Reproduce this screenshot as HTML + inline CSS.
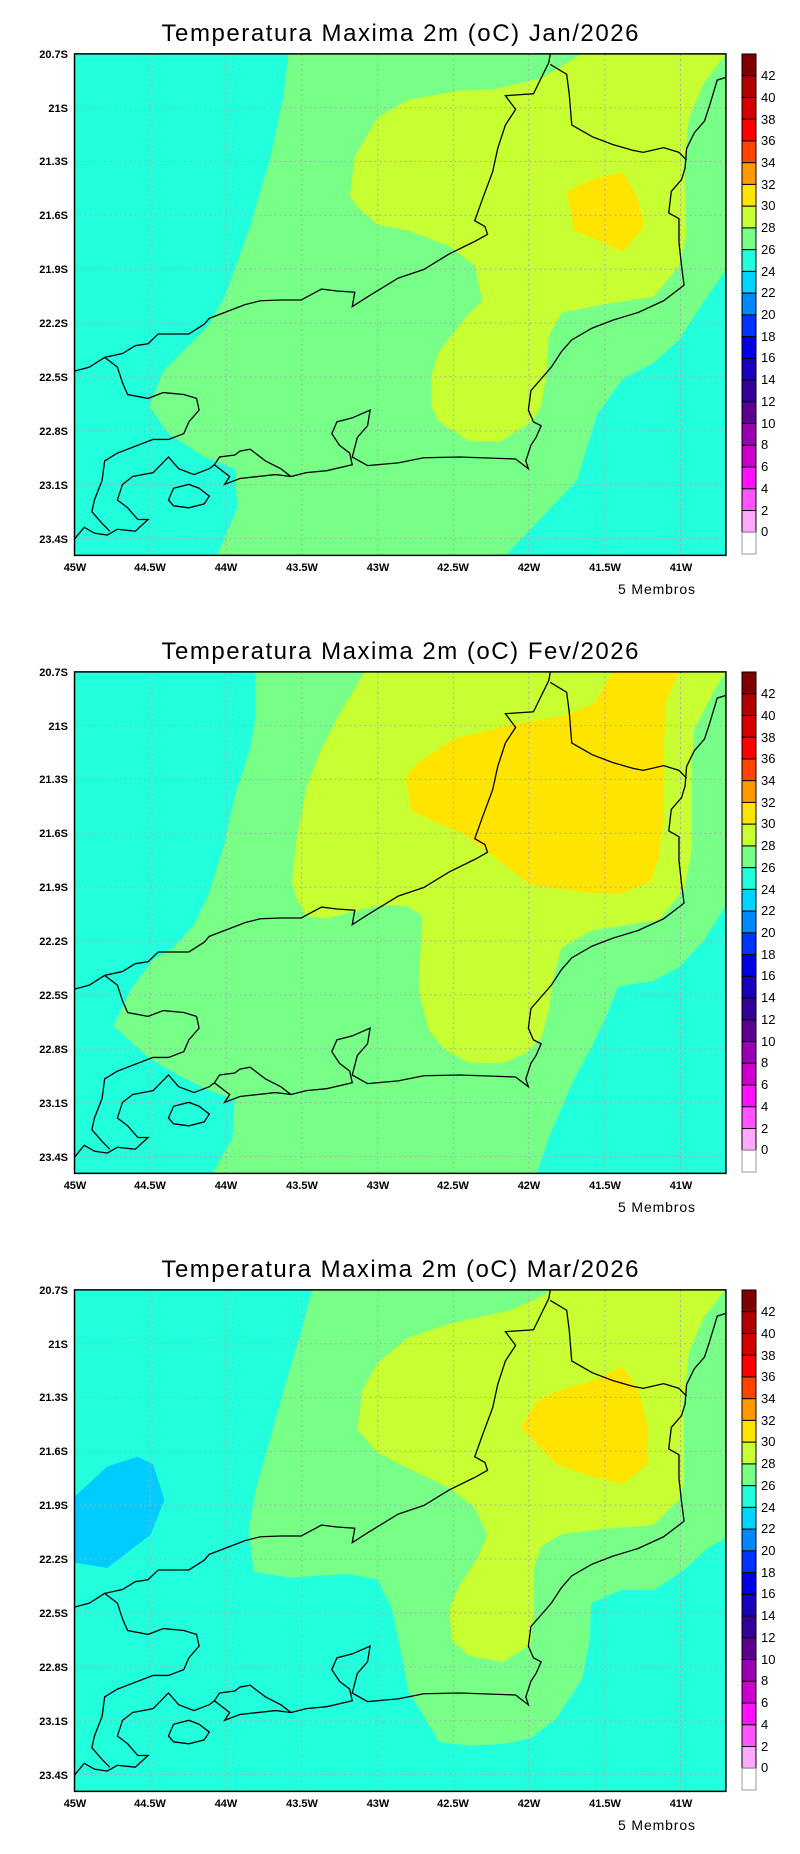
<!DOCTYPE html>
<html><head><meta charset="utf-8"><style>
html,body{margin:0;padding:0;background:#fff;width:800px;height:1854px;overflow:hidden}
svg{display:block}
text{font-family:"Liberation Sans",sans-serif;fill:#000}
</style></head><body>
<svg width="800" height="1854" viewBox="0 0 800 1854" xmlns="http://www.w3.org/2000/svg" xmlns:xlink="http://www.w3.org/1999/xlink">
<defs>
<clipPath id="clp"><rect x="146" y="138" width="1276" height="1284"/></clipPath>
<g id="coast" fill="none" stroke="#000" stroke-width="1.3" vector-effect="non-scaling-stroke">
<polyline vector-effect="non-scaling-stroke" points="146,950 175,940 205,915 240,905 265,885 290,880 310,855 350,855 370,855 400,830 410,815 440,800 480,780 510,770 550,768 590,768 630,740 660,745 695,748 690,785 720,760 780,712 830,690 880,650 930,618 955,600 950,580 930,565 945,510 965,440 975,380 990,320 1010,280 990,245 1045,240 1060,200 1075,160 1078,138"/>
<polyline vector-effect="non-scaling-stroke" points="1078,165 1110,190 1115,240 1120,320 1160,350 1200,370 1240,385 1260,390 1300,378 1330,390 1345,410"/>
<polyline vector-effect="non-scaling-stroke" points="1422,198 1405,205 1390,270 1380,310 1360,340 1345,380 1342,430 1335,460 1315,490 1310,545 1330,560 1330,620 1335,680 1340,730 1300,770 1250,800 1200,820 1160,840 1120,870 1100,900 1080,940 1060,970 1040,1000 1035,1050 1045,1080 1060,1090 1050,1120 1040,1140 1030,1180 1035,1200 1010,1175 900,1170 830,1172 780,1185 720,1192 690,1170 700,1120 720,1090 725,1050 690,1070 660,1080 650,1110 665,1140 685,1160 690,1190 640,1205 600,1210 570,1220 550,1200 520,1180 490,1150 470,1155 460,1165 430,1170 420,1190 440,1210 450,1220 440,1240 470,1225 540,1215 570,1220"/>
<polyline vector-effect="non-scaling-stroke" points="420,1190 410,1200 380,1215 350,1200 330,1170 315,1190 300,1210 260,1220 240,1240 230,1280 250,1300 270,1330 290,1330 265,1360 230,1355 210,1370 185,1365 165,1350 146,1380"/>
<polyline vector-effect="non-scaling-stroke" points="205,915 230,940 240,980 250,1010 290,1020 320,1005 360,1010 385,1020 390,1050 370,1080 360,1110 330,1125 300,1125 270,1140 230,1160 205,1180 200,1230 185,1280 180,1310 200,1340 215,1360"/>
<polygon vector-effect="non-scaling-stroke" points="330,1280 340,1250 370,1240 390,1250 410,1270 400,1290 370,1300 340,1295"/>
</g>
<g id="grid" stroke="#aaa" stroke-width="1" stroke-dasharray="2,3" vector-effect="non-scaling-stroke">
<path vector-effect="non-scaling-stroke" d="M294,138V1422M443,138V1422M591,138V1422M740,138V1422M888,138V1422M1036,138V1422M1185,138V1422M1333,138V1422M146,276H1422M146,413H1422M146,551H1422M146,689H1422M146,827H1422M146,965H1422M146,1103H1422M146,1241H1422M146,1379H1422"/>
</g>
<g id="axes">
<g font-size="11" font-weight="bold" text-anchor="end">
<text x="68" y="58">20.7S</text><text x="68" y="112">21S</text><text x="68" y="165">21.3S</text><text x="68" y="219">21.6S</text><text x="68" y="273">21.9S</text><text x="68" y="327">22.2S</text><text x="68" y="381">22.5S</text><text x="68" y="435">22.8S</text><text x="68" y="489">23.1S</text><text x="68" y="543">23.4S</text>
</g>
<g font-size="11" font-weight="bold" text-anchor="middle">
<text x="75" y="571">45W</text><text x="150" y="571">44.5W</text><text x="226" y="571">44W</text><text x="302" y="571">43.5W</text><text x="378" y="571">43W</text><text x="453" y="571">42.5W</text><text x="529" y="571">42W</text><text x="605" y="571">41.5W</text><text x="681" y="571">41W</text>
</g>
<text x="618" y="594" font-size="14" textLength="77">5 Membros</text>
<g stroke="#000" stroke-width="1">
<rect x="742" y="54" width="14" height="21.74" fill="#800000"/>
<rect x="742" y="75.74" width="14" height="21.74" fill="#b00000"/>
<rect x="742" y="97.48" width="14" height="21.74" fill="#d40000"/>
<rect x="742" y="119.22" width="14" height="21.74" fill="#ff0000"/>
<rect x="742" y="140.96" width="14" height="21.74" fill="#ff4400"/>
<rect x="742" y="162.7" width="14" height="21.74" fill="#ff9900"/>
<rect x="742" y="184.44" width="14" height="21.74" fill="#ffe400"/>
<rect x="742" y="206.18" width="14" height="21.74" fill="#c8ff33"/>
<rect x="742" y="227.92" width="14" height="21.74" fill="#77ff88"/>
<rect x="742" y="249.66" width="14" height="21.74" fill="#22ffdd"/>
<rect x="742" y="271.4" width="14" height="21.74" fill="#00d4ff"/>
<rect x="742" y="293.14" width="14" height="21.74" fill="#0088ff"/>
<rect x="742" y="314.88" width="14" height="21.74" fill="#0033ff"/>
<rect x="742" y="336.62" width="14" height="21.74" fill="#0000e6"/>
<rect x="742" y="358.36" width="14" height="21.74" fill="#1a00bb"/>
<rect x="742" y="380.1" width="14" height="21.74" fill="#330099"/>
<rect x="742" y="401.84" width="14" height="21.74" fill="#5c0090"/>
<rect x="742" y="423.58" width="14" height="21.74" fill="#9900b3"/>
<rect x="742" y="445.32" width="14" height="21.74" fill="#cc00cc"/>
<rect x="742" y="467.06" width="14" height="21.74" fill="#ff11ff"/>
<rect x="742" y="488.8" width="14" height="21.74" fill="#ff55ff"/>
<rect x="742" y="510.54" width="14" height="21.74" fill="#ffaaff"/>
<rect x="742" y="532.28" width="14" height="21.72" fill="#ffffff" stroke="#999"/>
</g>
<g font-size="13">
<text x="761" y="80">42</text><text x="761" y="102">40</text><text x="761" y="124">38</text><text x="761" y="145">36</text><text x="761" y="167">34</text><text x="761" y="189">32</text><text x="761" y="210">30</text><text x="761" y="232">28</text><text x="761" y="254">26</text><text x="761" y="276">24</text><text x="761" y="297">22</text><text x="761" y="319">20</text><text x="761" y="341">18</text><text x="761" y="362">16</text><text x="761" y="384">14</text><text x="761" y="406">12</text><text x="761" y="428">10</text><text x="761" y="449">8</text><text x="761" y="471">6</text><text x="761" y="493">4</text><text x="761" y="515">2</text><text x="761" y="536">0</text>
</g>
</g>
</defs>

<!-- Panel 1 -->
<g>
<text x="400" y="41" font-size="24" text-anchor="middle" textLength="477">Temperatura Maxima 2m (oC) Jan/2026</text>
<g transform="scale(0.5105 0.3906)">
<g clip-path="url(#clp)">
<rect x="146" y="138" width="1276" height="1284" fill="#22ffdd"/>
<polygon fill="#77ff88" points="565,138 1422,138 1422,690 1380,770 1330,870 1280,930 1220,970 1170,1060 1130,1230 1050,1340 990,1422 425,1422 465,1300 460,1200 400,1170 330,1110 292,1040 320,950 410,830 440,760 490,580 530,400 555,250"/>
<polygon fill="#c8ff33" points="1140,138 1422,138 1380,210 1350,300 1340,420 1345,600 1330,680 1280,760 1180,780 1100,800 1075,860 1070,960 1060,1040 1040,1080 980,1130 920,1130 860,1080 845,1040 845,960 860,900 920,800 945,770 930,680 880,630 800,590 740,575 700,530 685,500 695,400 740,300 800,255 900,232 970,228 1060,200"/>
<polygon fill="#ffe400" points="1110,490 1160,460 1220,440 1250,510 1262,580 1220,645 1180,620 1125,590 1118,540"/>
</g>
<use xlink:href="#grid"/>
<use xlink:href="#coast"/>
<rect x="146" y="138" width="1276" height="1284" fill="none" stroke="#000" stroke-width="1.5" vector-effect="non-scaling-stroke"/>
</g>
<use xlink:href="#axes"/>
</g>

<!-- Panel 2 -->
<g transform="translate(0 618)">
<text x="400" y="41" font-size="24" text-anchor="middle" textLength="477">Temperatura Maxima 2m (oC) Fev/2026</text>
<g transform="scale(0.5105 0.3906)">
<g clip-path="url(#clp)">
<rect x="146" y="138" width="1276" height="1284" fill="#22ffdd"/>
<g transform="translate(0 -46)">
<polygon fill="#77ff88" points="500,183 1422,183 1422,780 1380,870 1330,940 1280,975 1210,990 1190,1060 1160,1140 1120,1240 1080,1360 1048,1480 410,1480 455,1380 460,1280 400,1250 340,1210 290,1170 222,1090 255,1000 300,920 340,890 380,830 410,750 440,620 460,500 490,380 500,300"/>
<polygon fill="#c8ff33" points="715,183 1422,183 1400,230 1360,330 1355,420 1355,640 1340,740 1290,820 1160,845 1100,890 1085,960 1075,1050 1060,1120 1030,1160 985,1185 920,1185 870,1150 840,1100 825,1030 820,980 828,810 800,785 750,780 700,795 640,815 600,810 580,760 572,720 580,620 600,480 630,380 670,280"/>
<polygon fill="#ffe400" points="1200,183 1330,183 1305,260 1300,380 1300,560 1290,660 1275,720 1220,750 1160,750 1040,730 960,650 910,600 805,540 795,450 820,415 890,355 1000,320 1110,295 1165,265"/>
</g>
</g>
<use xlink:href="#grid"/>
<use xlink:href="#coast"/>
<rect x="146" y="138" width="1276" height="1284" fill="none" stroke="#000" stroke-width="1.5" vector-effect="non-scaling-stroke"/>
</g>
<use xlink:href="#axes"/>
</g>

<!-- Panel 3 -->
<g transform="translate(0 1236)">
<text x="400" y="41" font-size="24" text-anchor="middle" textLength="477">Temperatura Maxima 2m (oC) Mar/2026</text>
<g transform="scale(0.5105 0.3906)">
<g clip-path="url(#clp)">
<rect x="146" y="138" width="1276" height="1284" fill="#22ffdd"/>
<g transform="translate(0 -5)">
<polygon fill="#00ccff" points="140,680 210,595 270,570 300,590 322,680 295,770 210,855 140,840"/>
<polygon fill="#77ff88" points="612,140 1422,140 1422,780 1390,800 1340,860 1280,912 1220,910 1158,945 1155,1040 1140,1140 1090,1240 1040,1290 990,1305 920,1310 860,1300 800,1170 790,1100 768,960 740,885 680,870 570,880 497,865 487,760 500,660 530,520 560,380 590,250"/>
<polygon fill="#c8ff33" points="1085,140 1422,140 1380,210 1350,300 1340,420 1340,640 1330,680 1280,745 1180,755 1100,768 1060,800 1045,860 1045,960 1040,1050 985,1095 920,1080 885,1040 880,960 900,900 935,830 955,770 930,700 880,650 800,600 740,560 700,500 710,400 740,330 800,265 880,230 1000,195 1060,160"/>
<polygon fill="#ffe400" points="1020,495 1050,430 1085,405 1160,375 1220,340 1250,400 1270,500 1268,590 1220,640 1160,620 1090,590"/>
</g>
</g>
<use xlink:href="#grid"/>
<use xlink:href="#coast"/>
<rect x="146" y="138" width="1276" height="1284" fill="none" stroke="#000" stroke-width="1.5" vector-effect="non-scaling-stroke"/>
</g>
<use xlink:href="#axes"/>
</g>
</svg>
</body></html>
